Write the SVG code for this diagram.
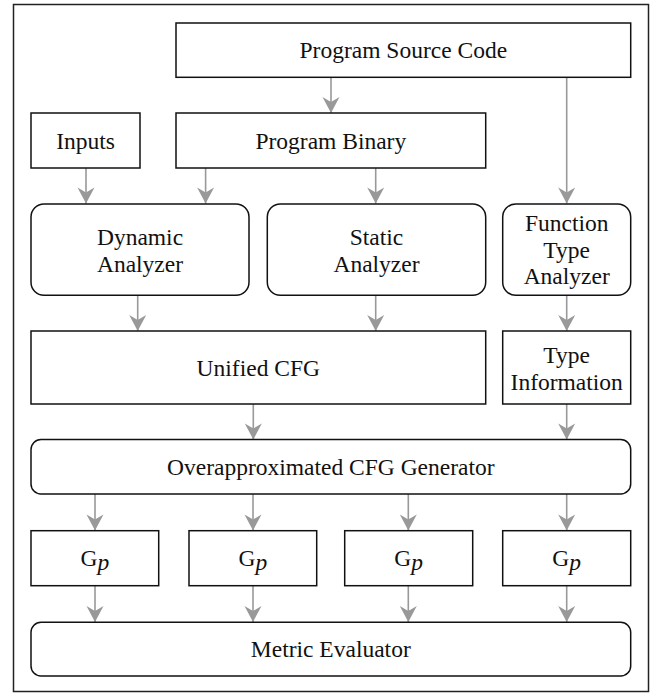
<svg xmlns="http://www.w3.org/2000/svg" width="665" height="694" viewBox="0 0 665 694">
<style>
.box{fill:#fff;stroke:#111;stroke-width:1.5}
text{font-family:'Liberation Serif','Times New Roman',Times,serif;font-size:23.5px;fill:#111;text-anchor:middle}
.c{stroke:#999;stroke-width:1.6;fill:none;marker-end:url(#ah)}
</style>
<defs>
<marker id="ah" markerUnits="userSpaceOnUse" viewBox="-17 -9 18 18" refX="0" refY="0" markerWidth="18" markerHeight="18" orient="auto">
<path d="M0,0 L-16,-8.5 L-11,0 L-16,8.5 Z" fill="#999"/>
</marker>
</defs>
<rect x="13.5" y="4.5" width="635" height="687" fill="#fff" stroke="#222" stroke-width="1.5"/>
<g id="connectors">
<line class="c" x1="331" y1="78" x2="331" y2="113"/>
<line class="c" x1="566.7" y1="78" x2="566.7" y2="203.5"/>
<line class="c" x1="86" y1="168" x2="86" y2="203.5"/>
<line class="c" x1="205.6" y1="168" x2="205.6" y2="203.5"/>
<line class="c" x1="375.7" y1="168" x2="375.7" y2="203.5"/>
<line class="c" x1="137.7" y1="295.5" x2="137.7" y2="331"/>
<line class="c" x1="375.7" y1="295.5" x2="375.7" y2="331"/>
<line class="c" x1="566.7" y1="295.5" x2="566.7" y2="331"/>
<line class="c" x1="253.3" y1="404" x2="253.3" y2="439.5"/>
<line class="c" x1="566.7" y1="404" x2="566.7" y2="439.5"/>
<line class="c" x1="95" y1="494" x2="95" y2="530.5"/>
<line class="c" x1="253" y1="494" x2="253" y2="530.5"/>
<line class="c" x1="408.3" y1="494" x2="408.3" y2="530.5"/>
<line class="c" x1="566.7" y1="494" x2="566.7" y2="530.5"/>
<line class="c" x1="95" y1="586" x2="95" y2="622"/>
<line class="c" x1="253" y1="586" x2="253" y2="622"/>
<line class="c" x1="408.3" y1="586" x2="408.3" y2="622"/>
<line class="c" x1="566.7" y1="586" x2="566.7" y2="622"/>
</g>
<g font-family="Liberation Serif, Times New Roman, serif">
<g id="source"><rect class="box" x="176" y="23" width="454.7" height="54.3"/><text x="403.3" y="58">Program Source Code</text></g>
<g id="inputs"><rect class="box" x="31" y="113" width="109" height="55"/><text x="85.5" y="149">Inputs</text></g>
<g id="binary"><rect class="box" x="176" y="113" width="309.7" height="55"/><text x="330.8" y="149">Program Binary</text></g>
<g id="dynamic"><rect class="box" x="31" y="204" width="218" height="91.3" rx="13"/><text x="140" y="245">Dynamic</text><text x="140" y="272">Analyzer</text></g>
<g id="static"><rect class="box" x="267.3" y="204" width="218.4" height="91.3" rx="13"/><text x="376.5" y="245">Static</text><text x="376.5" y="272">Analyzer</text></g>
<g id="function"><rect class="box" x="502.7" y="204" width="128" height="91.3" rx="13"/><text x="566.7" y="231">Function</text><text x="566.7" y="257.5">Type</text><text x="566.7" y="284">Analyzer</text></g>
<g id="unified"><rect class="box" x="31" y="331" width="454.7" height="73"/><text x="258.3" y="375.5">Unified CFG</text></g>
<g id="typeinfo"><rect class="box" x="502.7" y="331" width="128" height="73"/><text x="566.7" y="363">Type</text><text x="566.7" y="390">Information</text></g>
<g id="overapprox"><rect class="box" x="31" y="439.5" width="599.7" height="54.5" rx="10"/><text x="330.8" y="475">Overapproximated CFG Generator</text></g>
<g id="gp1"><rect class="box" x="31" y="530.7" width="127.7" height="55"/><text x="94.8" y="566">G<tspan font-style="italic" dy="4">p</tspan></text></g>
<g id="gp2"><rect class="box" x="189" y="530.7" width="127.7" height="55"/><text x="252.8" y="566">G<tspan font-style="italic" dy="4">p</tspan></text></g>
<g id="gp3"><rect class="box" x="344.7" y="530.7" width="128" height="55"/><text x="408.7" y="566">G<tspan font-style="italic" dy="4">p</tspan></text></g>
<g id="gp4"><rect class="box" x="502.7" y="530.7" width="128" height="55"/><text x="566.7" y="566">G<tspan font-style="italic" dy="4">p</tspan></text></g>
<g id="metric"><rect class="box" x="31" y="622.3" width="599.7" height="53.7" rx="10"/><text x="330.8" y="657">Metric Evaluator</text></g>
</g>
</svg>
